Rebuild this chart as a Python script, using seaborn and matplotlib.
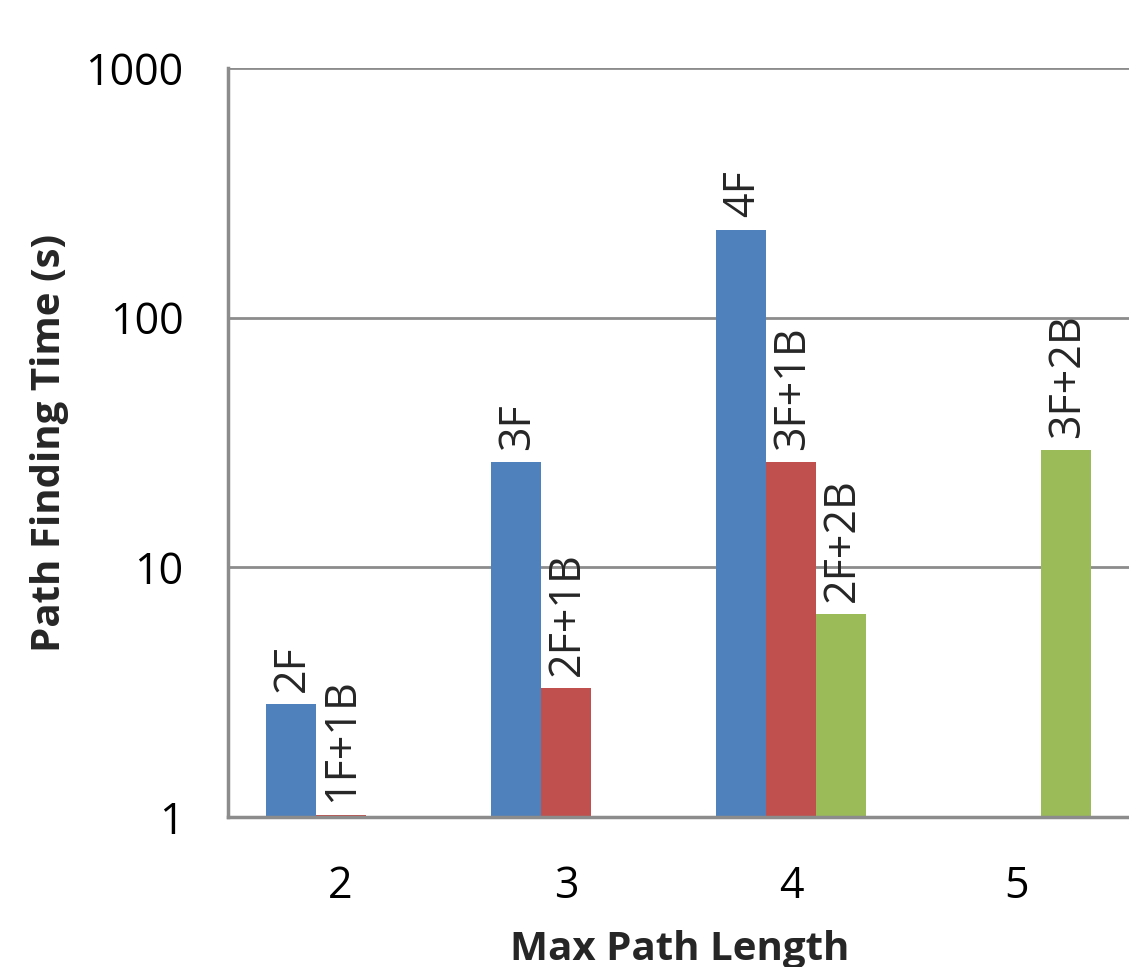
import matplotlib
matplotlib.use("Agg")
import matplotlib.pyplot as plt
import seaborn as sns
import pandas as pd

# Data
categories = ["2", "3", "4", "5"]
series = ["Forward", "Mixed1B", "Mixed2B"]
blue_vals = [2.83, 26.3, 225.0, None]
red_vals = [1.02, 3.28, 26.3, None]
green_vals = [None, None, 6.5, 29.5]
blue_labels = ["2F", "3F", "4F", None]
red_labels = ["1F+1B", "2F+1B", "3F+1B", None]
green_labels = [None, None, "2F+2B", "3F+2B"]
colors = ["#4F81BD", "#C0504D", "#9BBB59"]

rows = []
for s, vals, labs in zip(series, [blue_vals, red_vals, green_vals],
                         [blue_labels, red_labels, green_labels]):
    for c, v, l in zip(categories, vals, labs):
        if v is not None:
            rows.append({"cat": c, "series": s, "value": v, "label": l})
df = pd.DataFrame(rows)

sns.set_style("white")
plt.rcParams['font.family'] = ['Open Sans', 'DejaVu Sans']

fig = plt.figure(figsize=(11.29, 9.67), dpi=100)
ax = fig.add_axes([0.2020, 0.1551, 0.800, 0.7746])

group_w = 0.664
sns.barplot(data=df, x="cat", y="value", hue="series", order=categories,
            hue_order=series, palette=colors, width=group_w, gap=0,
            dodge=True, ax=ax, legend=False, saturation=1, edgecolor="none",
            errorbar=None)

ax.set_yscale("log")
ax.set_ylim(1, 1000)
ax.set_xlim(-0.5, 3.51)
ax.set_yticks([1, 10, 100, 1000])
ax.set_yticklabels(["1", "10", "100", "1000"])
ax.minorticks_off()
ax.yaxis.grid(True, color="#8C8C8C", linewidth=2)
ax.set_axisbelow(True)

for side in ["top", "right"]:
    ax.spines[side].set_visible(False)
for side in ["left", "bottom"]:
    ax.spines[side].set_color("#8C8C8C")
    ax.spines[side].set_linewidth(2.5)

ax.tick_params(axis="both", length=0, labelsize=31, colors="black")
ax.tick_params(axis="y", pad=32)
ax.tick_params(axis="x", pad=34)

ax.set_xlabel("Max Path Length", fontsize=29, fontweight="bold", labelpad=15)
ax.set_ylabel("Path Finding Time (s)", fontsize=29, fontweight="bold", labelpad=12)

hue_w = group_w / 3
for _, r in df.iterrows():
    ci = categories.index(r["cat"])
    si = series.index(r["series"])
    xc = ci - group_w / 2 + hue_w * (si + 0.5)
    ax.annotate(r["label"], xy=(xc, r["value"]), xytext=(1, 9),
                textcoords="offset points", rotation=90, ha="center",
                va="bottom", fontsize=31)

fig.savefig("out.png", dpi=100)
